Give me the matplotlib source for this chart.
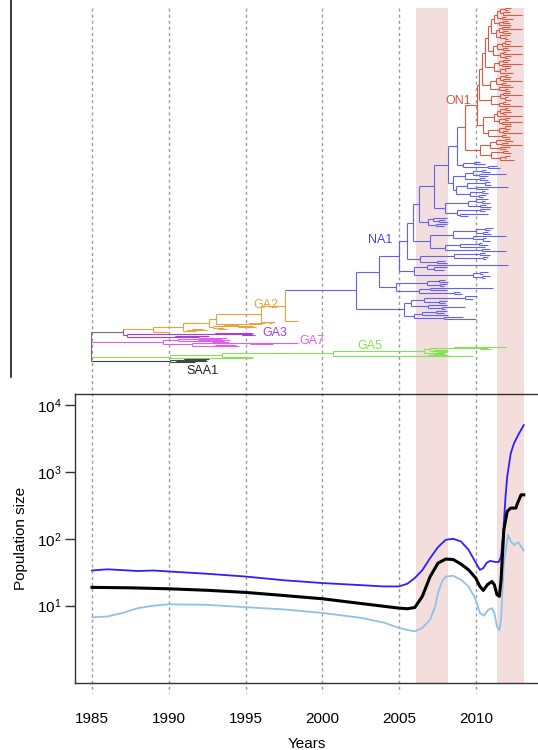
import re
import numpy as np
import matplotlib
matplotlib.use("Agg")
import matplotlib.pyplot as plt
from matplotlib.collections import LineCollection

plt.rcParams['font.family'] = ['Liberation Sans', 'DejaVu Sans']
plt.rcParams['mathtext.fontset'] = 'custom'
plt.rcParams['mathtext.rm'] = 'Liberation Sans'
plt.rcParams['mathtext.it'] = 'Liberation Sans:italic'

# ---------------- data: skyline (population size) ----------------
years_upper = [1985.0, 1986.0, 1987.0, 1988.0, 1989.0, 1990.0, 1992.5, 1995.0, 1997.5, 2000.0,
               2002.5, 2004.0, 2005.0, 2005.54, 2006.03, 2006.52, 2007.03, 2007.54, 2008.04,
               2008.53, 2009.04, 2009.53, 2010.0, 2010.27, 2010.49, 2010.71, 2010.94, 2011.27,
               2011.5, 2011.65, 2011.79, 2011.94, 2012.05, 2012.28, 2012.5, 2012.83, 2013.13]
pop_upper = [33.6, 35, 34, 33, 33.6, 32.5, 30, 27.3, 24, 21.8,
             20.3, 19.4, 19.4, 21.3, 25.9, 34, 51.5, 75, 96.6,
             100, 91, 68.5, 44, 34.4, 36.4, 43.7, 46.8, 45,
             45, 54, 122, 427, 850, 1900, 2700, 3800, 5000]

years_median = [1985.0, 1987.5, 1990.0, 1992.5, 1995.0, 1997.5, 2000.0, 2002.5, 2005.0, 2005.54,
                2006.03, 2006.52, 2007.03, 2007.54, 2008.04, 2008.53, 2009.04, 2009.53, 2010.0,
                2010.27, 2010.49, 2010.76, 2011.05, 2011.21, 2011.38, 2011.54, 2011.65, 2011.83,
                2012.05, 2012.28, 2012.61, 2012.72, 2012.95, 2013.13]
pop_median = [18.8, 18.5, 17.9, 17.0, 15.8, 14.2, 12.7, 10.8, 9.2, 9.0,
              9.4, 13.8, 27.3, 43.3, 49.8, 49, 41.9, 34.4, 25.9,
              19.4, 16.9, 20.6, 23, 20.6, 14.6, 13.8, 24.4, 136,
              257, 288, 288, 340, 454, 454]

years_lower = [1985.0, 1986.0, 1987.0, 1988.0, 1989.0, 1990.0, 1992.5, 1995.0, 1997.5, 2000.0,
               2002.5, 2004.0, 2005.0, 2005.54, 2006.03, 2006.52, 2007.03, 2007.36, 2007.54,
               2007.8, 2008.04, 2008.53, 2009.04, 2009.53, 2010.0, 2010.27, 2010.53, 2010.82,
               2011.05, 2011.21, 2011.38, 2011.54, 2011.65, 2011.83, 2012.1, 2012.28, 2012.5,
               2012.77, 2012.95, 2013.13]
pop_lower = [6.7, 6.9, 7.8, 9.2, 10, 10.5, 10.3, 9.5, 8.8, 7.8,
             6.6, 5.6, 4.65, 4.35, 4.14, 4.65, 6.2, 9.8, 15.5,
             23, 27.3, 28, 24.4, 19.4, 12.3, 7.8, 7.1, 8.7,
             9.2, 7.8, 4.9, 4.3, 6.2, 43, 115, 91, 81,
             89, 77, 67]

year_ticks = [1985, 1990, 1995, 2000, 2005, 2010]
shaded_periods = [(2006.08, 2008.17), (2011.41, 2013.17)]

# ---------------- data: dated tree (node dates in years) ----------------
def nd(t, *kids, tag=''):
    return "(" + ",".join(kids) + ")" + str(t) + ("#" + tag if tag else "")

S1 = "((((2012.3,2012.1)2011.9,(2012.2,2013.0)2011.8)2011.6,(2012.0,2012.4)2011.7)2011.4,((2012.1,2012.2)2011.8,2012.3)2011.5)2011.2"
S2 = "(((2012.2,2013.0)2011.7,(2012.1,2012.3)2011.8)2011.5,(2012.2,(2012.0,2012.1)2011.9)2011.6)2011.3"
S3 = "((((2012.3,2012.2)2011.9,2013.0)2011.7,(2012.1,2012.2)2011.8)2011.4,((2012.0,2013.0)2011.8,(2012.3,2012.1)2011.9)2011.6)2011.1"
S4 = "(((2012.2,2012.1)2011.8,(2013.0,2012.3)2011.7)2011.5,((2012.2,2012.0)2011.9,2012.4)2011.6)2011.2"
S5 = "((((2012.1,2012.3)2011.9,(2012.2,2013.0)2011.8)2011.6,(2012.0,2012.2)2011.7)2011.3,(2012.4,(2012.1,2012.2)2011.9)2011.5)2010.9"
S6 = "(((2012.2,2013.0)2011.8,(2012.1,2012.3)2011.9)2011.6,((2012.0,2012.2)2011.8,2013.0)2011.5)2011.0"
S7 = "((((2012.1,2012.2)2011.9,(2012.3,2012.0)2011.8)2011.6,2013.0)2011.4,((2012.2,2012.1)2011.9,(2013.0,2012.3)2011.7)2011.5)2011.2"
S8 = "(((2012.3,2012.2)2011.9,(2012.1,2013.0)2011.8)2011.5,(2012.0,2012.2)2011.7)2010.8"
S9 = "(((2012.2,2012.4)2011.9,(2012.1,2013.0)2011.7)2011.3,(2012.2,2012.0)2011.6)2010.9"
S10 = "((2012.1,2012.3)2011.8,((2012.2,2012.0)2011.9,2012.5)2011.6)2011.0"

ON1 = nd(2009.3,
         nd(2010.05,
            nd(2010.2, nd(2010.4, nd(2010.6, nd(2010.8, nd(2011.0, S1, S2), S3), S4), S5), S6),
            nd(2010.5, S7, S8)),
         nd(2010.3, S9, S10), tag='ON1')

N7side = "((2010.3,2010.6)2009.9,(2011.4,2011.6)2010.8)2009.2"
N6a = "(((2010.7,2010.9)2010.4,(2012.0,2010.8)2010.2)2009.8,(2010.6,2010.8)2010.3)2009.3"
N6b = "(((2010.9,2011.0)2010.6,(2012.1,2010.8)2010.0)2009.4,((2010.6,2010.8)2010.4,(2010.7,2010.5)2010.2)2009.6)2008.7"
N5side = "(((2010.8,(2010.6,2010.9)2010.4)2010.0,(2010.7,2011.0)2010.3)2009.5,((2010.9,2010.6)2010.3,(2010.8,2009.5)2009.0)2008.8)2008.0"
N4side = "((2008.1,(2008.0,2008.2)2007.6)2007.2,(2008.1,2007.9)2007.4)2006.9"
N3side = "((((2011.1,2010.9)2010.6,(2010.8,2011.0)2010.5)2010.0,(2012.0,(2010.7,2010.9)2010.5)2009.8)2008.5,(((2010.4,2010.8)2010.2,2010.6)2009.0,(2010.9,2012.0)2010.4)2008.0)2007.0"
N2side = "(((2010.6,2010.9)2010.3,(2010.8,2010.7)2010.5)2008.6,(2008.0,2008.1)2007.5)2006.4"
N1side = "((2012.1,(2008.1,2007.9)2007.3)2006.8,((2010.8,2010.5)2010.3,(2010.9,2010.6)2010.4)2009.8)2006.0"
U2 = "(((2008.0,2008.2)2007.6,(2008.1,2007.9)2007.7)2006.8,((2011.1,2008.1)2007.0,(2009.0,2009.1)2008.6)2006.3)2004.8"
LOW = "((((2010.1,2009.8)2009.3,(2008.1,2008.0)2007.6)2006.6,(2008.1,(2009.3,2008.0)2007.8)2006.9)2005.8,(((2008.1,2007.9)2007.4,2008.2)2006.5,(2009.2,2010.0)2007.9)2006.0)2005.3"

N7 = nd(2008.8, ON1, N7side)
N6 = nd(2008.2, N7, nd(2008.5, N6a, N6b))
N5 = nd(2007.3, N6, N5side)
N4 = nd(2006.3, N5, N4side)
N3 = nd(2005.9, N4, N3side)
N2 = nd(2005.5, N3, N2side)
N1 = nd(2005.0, N2, N1side)
NA1 = nd(2002.2, nd(2003.7, N1, U2), LOW, tag='NA1')

G6 = nd(1997.6, NA1, "1998.4")
G5 = nd(1996.0, G6, "(1996.9,1996.7)1996.5")
G4 = nd(1993.1, G5, "((1996.3,1996.1)1995.2,1994.6)1993.6")
G3 = nd(1992.6, G4, "((1995.5,1995.7)1994.5,(1993.6,1993.8)1993.2)1992.9")
G2 = nd(1990.9, G3, "((1992.2,1992.5)1991.5,1991.8)1991.2")
GA2 = nd(1989.0, G2, "1990.0", tag='GA2')
GA3 = "((1995.5,(1995.4,1995.6)1994.8)1993.0,((1992.4,1992.6)1991.2,1992.0)1990.4)1987.3#GA3"
GA7 = "(((1993.8,1993.5)1992.0,(1994.0,(1993.6,1993.9)1992.8)1991.9)1990.6,((1998.4,(1996.5,1996.8)1996.0)1995.3,(1994.4,1994.6)1993.0)1991.5)1989.6#GA7"
GA5 = "((((((2012.0,(2010.8,2011.0)2010.3)2008.6,((2008.0,2008.1)2007.6,2008.2)2007.3)2007.0,((2008.1,2007.9)2007.5,2008.0)2007.2)2006.6,((2008.2,2008.0)2007.6,2009.8)2006.9)2000.7,1995.4)1993.5,1995.5)1990.1#GA5"
SAA1 = "(((1992.6,1992.4)1991.0,1992.5)1990.5,1991.7)1990.1#SAA1"
TREE = nd(1984.92, nd(1987.0, GA2, GA3), GA7, GA5, SAA1, tag='ROOT')

clade_colors = {'ROOT': '#707070', 'GA2': '#e8a33d', 'GA3': '#a53fd8', 'GA7': '#e35cf0',
                'GA5': '#86e05a', 'SAA1': '#444444', 'NA1': '#6262f2', 'ON1': '#dc5a44'}
clade_labels = ['ON1', 'NA1', 'GA2', 'GA3', 'GA7', 'GA5', 'SAA1']
label_x = [2008.85, 2003.8, 1996.3, 1996.9, 1999.3, 2003.1, 1992.2]
label_px_y = [101, 240, 304.5, 333, 341.5, 346, 370.5]
label_colors = ['#d9553e', '#4646ee', '#e8a33d', '#a53fd8', '#e35cf0', '#86e05a', '#222222']
basal_weight = 0.42

# ---------------- geometry helpers ----------------
W, H = 538, 750
PX_1985, PX_PER_YEAR = 92.0, 15.35
def yr(px):
    return 1985 + (px - PX_1985) / PX_PER_YEAR

def parse(s):
    s = s.replace(" ", "")
    pos = 0
    def node():
        nonlocal pos
        kids = []
        if s[pos] == '(':
            pos += 1
            kids.append(node())
            while s[pos] == ',':
                pos += 1
                kids.append(node())
            pos += 1  # ')'
        m = re.match(r'[0-9.]+', s[pos:])
        t = float(m.group())
        pos += len(m.group())
        tag = None
        if pos < len(s) and s[pos] == '#':
            m2 = re.match(r'#([A-Za-z0-9]+)', s[pos:])
            tag = m2.group(1)
            pos += len(m2.group())
        return {'t': t, 'kids': kids, 'tag': tag}
    return node()

root = parse(TREE)

tips = []
def assign(n, tag):
    n['clade'] = n['tag'] or tag
    for k in n['kids']:
        assign(k, n['clade'])
    if not n['kids']:
        tips.append(n)
assign(root, 'ROOT')

wt = lambda n: 1.0 if n['clade'] in ('ON1', 'NA1') else basal_weight
acc = 0.0
for i, n in enumerate(tips):
    if i > 0:
        acc += 0.5 * (wt(tips[i - 1]) + wt(n))
    n['u'] = acc
Y_TOP, Y_BOT = 8.3, 361.7
for n in tips:
    n['y'] = Y_TOP + (Y_BOT - Y_TOP) * n['u'] / acc

def set_y(n):
    if n['kids']:
        for k in n['kids']:
            set_y(k)
        n['y'] = 0.5 * (n['kids'][0]['y'] + n['kids'][-1]['y'])
set_y(root)

segs = {c: [] for c in clade_colors}
def collect(n, parent_t):
    c = n['clade']
    if parent_t is not None:
        segs[c].append([(parent_t, n['y']), (n['t'], n['y'])])
    if n['kids']:
        segs[c].append([(n['t'], n['kids'][0]['y']), (n['t'], n['kids'][-1]['y'])])
        for k in n['kids']:
            collect(k, n['t'])
collect(root, None)

# ---------------- figure ----------------
fig = plt.figure(figsize=(W / 100, H / 100), dpi=100)

ov = fig.add_axes([0, 0, 1, 1])
ov.set_zorder(0)
ov.set_xlim(yr(0), yr(W))
ov.set_ylim(H, 0)
ov.axis('off')

for a, b in shaded_periods:
    ov.fill_between([a, b], 8, 683, color='#f3dedd', lw=0, zorder=0)
for y in year_ticks:
    ov.plot([y, y], [8, 693], color='#9c9c9c', lw=1.0, ls=(0, (2.2, 2.2)), zorder=1)

for c, lst in segs.items():
    if lst:
        ov.add_collection(LineCollection(lst, colors=[clade_colors[c]] * len(lst),
                                         linewidths=0.8, zorder=3))

for lab, x, y, col in zip(clade_labels, label_x, label_px_y, label_colors):
    ov.text(x, y, lab, color=col, fontsize=9, ha='center', va='center', zorder=4)

ov.plot([yr(11), yr(11)], [0, 377], color='black', lw=1.1, zorder=3)

# bottom skyline panel
L, R, T, B = 75.3, W, 394.3, 682.7
ax = fig.add_axes([L / W, (H - B) / H, (R - L) / W, (B - T) / H])
ax.set_zorder(1)
ax.patch.set_alpha(0)
ax.set_xlim(yr(L), yr(R))
ax.set_yscale('log')
ax.set_ylim(10 ** -0.151, 10 ** 4.16)

ax.plot(years_upper, pop_upper, color='#2f1fff', lw=1.3)
ax.plot(years_lower, pop_lower, color='#8fc2e8', lw=1.3)
ax.plot(years_median, pop_median, color='black', lw=2.2)

ax.set_yticks([10, 100, 1000, 10000])
ax.yaxis.set_minor_locator(matplotlib.ticker.NullLocator())
ax.tick_params(axis='y', length=7, width=1, color='#333333', labelsize=11, pad=3)
ax.set_xticks(year_ticks)
ax.set_xticklabels([str(v) for v in year_ticks])
ax.tick_params(axis='x', length=0, labelsize=11, pad=21)
for s in ['left', 'top', 'bottom']:
    ax.spines[s].set_color('#333333')
    ax.spines[s].set_linewidth(1.0)
ax.spines['right'].set_visible(False)
ax.set_ylabel('Population size', fontsize=11, labelpad=6)
ax.set_xlabel('Years', fontsize=11, labelpad=8)

fig.savefig('out.png', dpi=100)
